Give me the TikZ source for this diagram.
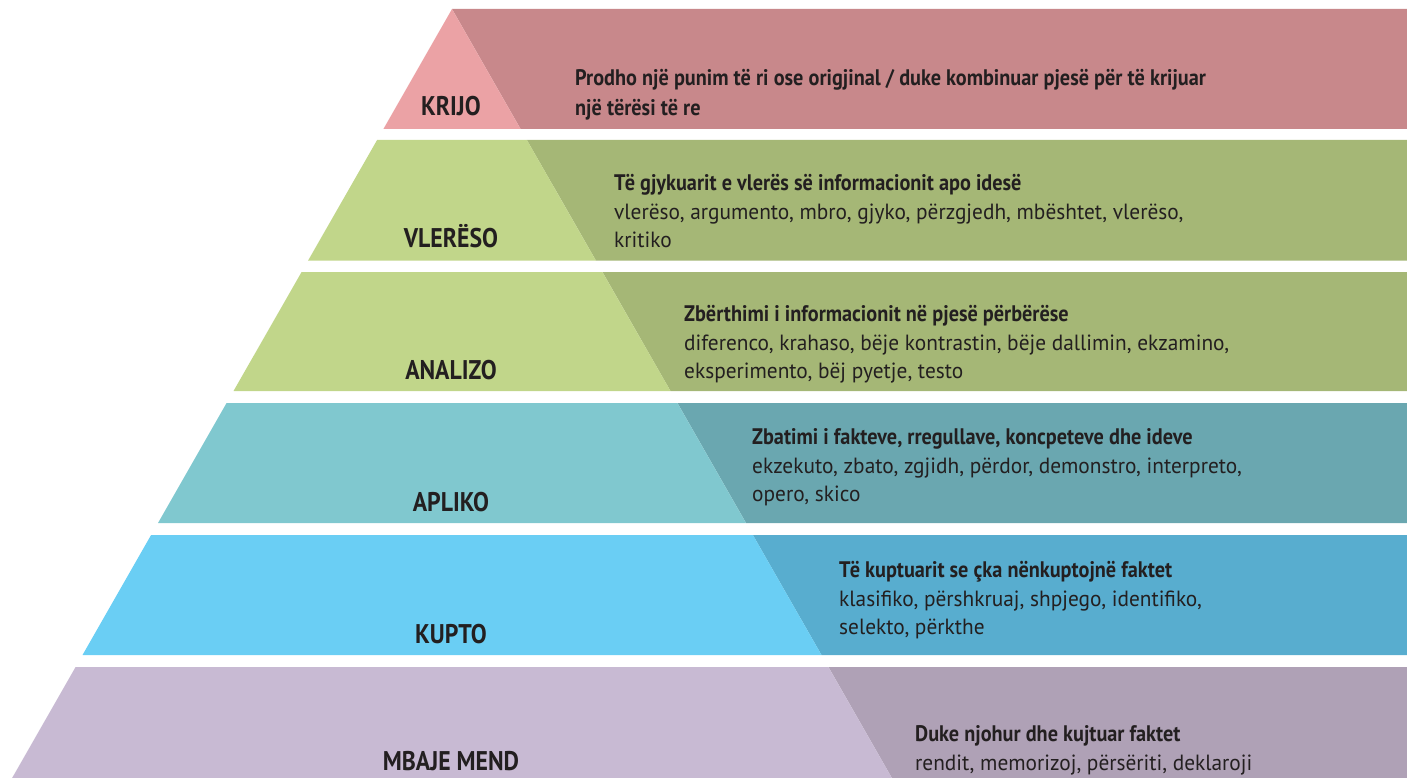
\documentclass[tikz,border=0pt]{standalone}
\usepackage{fontspec}
\setmainfont{PT Sans}
\newfontfamily\labfam{PT Sans}[FakeStretch=0.88]
\newfontfamily\hdfam{PT Sans}[FakeStretch=0.9]
\newfontfamily\bdfam{PT Sans}[FakeStretch=0.97]
\definecolor{ink}{HTML}{231F20}
\definecolor{pinkL}{HTML}{EBA2A5}
\definecolor{pinkD}{HTML}{C8888B}
\definecolor{greenL}{HTML}{C1D68A}
\definecolor{greenD}{HTML}{A5B776}
\definecolor{tealL}{HTML}{80C8CF}
\definecolor{tealD}{HTML}{6AA7B0}
\definecolor{blueL}{HTML}{6ACEF4}
\definecolor{blueD}{HTML}{58ADCF}
\definecolor{lavL}{HTML}{C8BAD3}
\definecolor{lavD}{HTML}{AFA1B6}
\tikzset{
  lbl/.style={font=\labfam\bfseries\fontsize{27}{30}\selectfont, anchor=base, inner sep=0pt, text=ink},
  hd/.style={font=\hdfam\bfseries\fontsize{22.5}{28}\selectfont, anchor=base west, inner sep=0pt, text=ink},
  bd/.style={font=\bdfam\fontsize{22}{28}\selectfont, anchor=base west, inner sep=0pt, text=ink},
}
\begin{document}
\begin{tikzpicture}[x=1pt,y=-1pt]
\path[use as bounding box] (0,0) rectangle (1407,778);
% band 1
\fill[pinkD] (452,9) -- (1407,9) -- (1407,129) -- (520.6,129) -- cycle;
\fill[pinkL] (452,9) -- (520.6,129) -- (383.4,129) -- cycle;
% band 2
\fill[greenD] (526.9,140) -- (1407,140) -- (1407,260.5) -- (595.9,260.5) -- cycle;
\fill[greenL] (377.1,140) -- (526.9,140) -- (595.9,260.5) -- (308.1,260.5) -- cycle;
% band 3
\fill[greenD] (602.4,272) -- (1407,272) -- (1407,391) -- (670.5,391) -- cycle;
\fill[greenL] (301.6,272) -- (602.4,272) -- (670.5,391) -- (233.5,391) -- cycle;
% band 4
\fill[tealD] (677.4,403) -- (1407,403) -- (1407,523) -- (746.0,523) -- cycle;
\fill[tealL] (226.6,403) -- (677.4,403) -- (746.0,523) -- (158.0,523) -- cycle;
% band 5
\fill[blueD] (752.9,535) -- (1407,535) -- (1407,655) -- (821.5,655) -- cycle;
\fill[blueL] (151.1,535) -- (752.9,535) -- (821.5,655) -- (82.5,655) -- cycle;
% band 6
\fill[lavD] (828.4,667) -- (1407,667) -- (1407,778) -- (891.9,778) -- cycle;
\fill[lavL] (75.6,667) -- (828.4,667) -- (891.9,778) -- (12.1,778) -- cycle;

% labels
\node[lbl] (l1) at (451,116) {KRIJO};
\node[lbl] (l2) at (451,247) {VLERËSO};
\node[lbl] (l3) at (451,379) {ANALIZO};
\node[lbl] (l4) at (451,511) {APLIKO};
\node[lbl] (l5) at (451,643) {KUPTO};
\node[lbl] (l6) at (451,770) {MBAJE MEND};

% descriptions
\node[hd] (d1a) at (575,86) {Prodho një punim të ri ose origjinal / duke kombinuar pjesë për të krijuar};
\node[hd] (d1b) at (575,116) {një tërësi të re};

\node[hd] (d2a) at (614,190) {Të gjykuarit e vlerës së informacionit apo idesë};
\node[bd] (d2b) at (614,219) {vlerëso, argumento, mbro, gjyko, përzgjedh, mbështet, vlerëso,};
\node[bd] (d2c) at (614,247) {kritiko};

\node[hd] (d3a) at (684,321) {Zbërthimi i informacionit në pjesë përbërëse};
\node[bd] (d3b) at (684,350) {diferenco, krahaso, bëje kontrastin, bëje dallimin, ekzamino,};
\node[bd] (d3c) at (684,378) {eksperimento, bëj pyetje, testo};

\node[hd] (d4a) at (752,444) {Zbatimi i fakteve, rregullave, koncpeteve dhe ideve};
\node[bd] (d4b) at (752,473) {ekzekuto, zbato, zgjidh, përdor, demonstro, interpreto,};
\node[bd] (d4c) at (752,501) {opero, skico};

\node[hd] (d5a) at (839,577) {Të kuptuarit se çka nënkuptojnë faktet};
\node[bd] (d5b) at (839,606) {klasifiko, përshkruaj, shpjego, identifiko,};
\node[bd] (d5c) at (839,634) {selekto, përkthe};

\node[hd] (d6a) at (915,741) {Duke njohur dhe kujtuar faktet};
\node[bd] (d6b) at (915,770) {rendit, memorizoj, përsëriti, deklaroji};
\end{tikzpicture}
\end{document}
